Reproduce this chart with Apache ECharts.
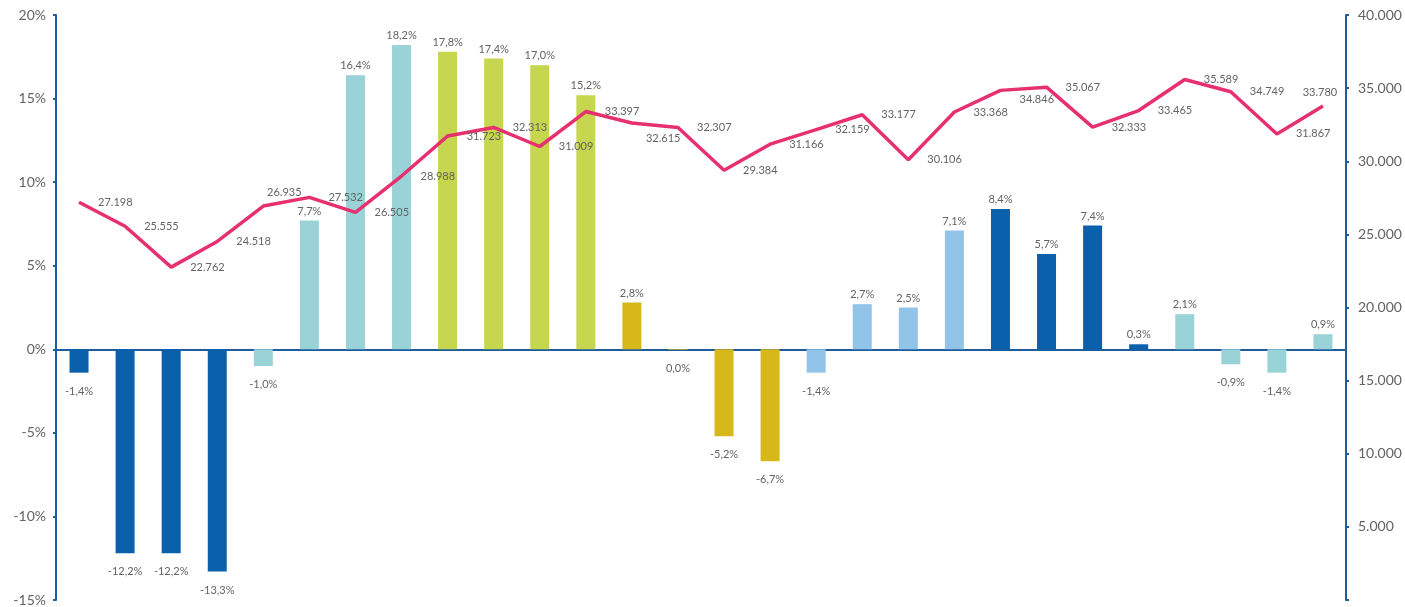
<!DOCTYPE html>
<html>
<head>
<meta charset="utf-8">
<script src="https://cdn.jsdelivr.net/npm/echarts@6/dist/echarts.min.js"></script>
<style>
  html, body { margin: 0; padding: 0; background: #ffffff; }
  #chart { width: 1405px; height: 607px; }
</style>
</head>
<body>
<div id="chart"></div>
<script>
// Quarterly periods, seven years of four quarters each
const categories = [
  '1T-1', '2T-1', '3T-1', '4T-1',
  '1T-2', '2T-2', '3T-2', '4T-2',
  '1T-3', '2T-3', '3T-3', '4T-3',
  '1T-4', '2T-4', '3T-4', '4T-4',
  '1T-5', '2T-5', '3T-5', '4T-5',
  '1T-6', '2T-6', '3T-6', '4T-6',
  '1T-7', '2T-7', '3T-7', '4T-7'
];

// Year-on-year change, % (left axis)
const variation = [
  -1.4, -12.2, -12.2, -13.3,
  -1.0, 7.7, 16.4, 18.2,
  17.8, 17.4, 17.0, 15.2,
  2.8, -0.04, -5.2, -6.7,
  -1.4, 2.7, 2.5, 7.1,
  8.4, 5.7, 7.4, 0.3,
  2.1, -0.9, -1.4, 0.9
];

// Absolute level (right axis)
const level = [
  27198, 25555, 22762, 24518,
  26935, 27532, 26505, 28988,
  31723, 32313, 31009, 33397,
  32615, 32307, 29384, 31166,
  32159, 33177, 30106, 33368,
  34846, 35067, 32333, 33465,
  35589, 34749, 31867, 33780
];

// Left axis ticks
const pctMin = -15, pctMax = 20, pctStep = 5;
// Right axis ticks
const lvlMin = 0, lvlMax = 40000, lvlStep = 5000;

// One colour per year
const yearColors = ['#0a60ab', '#9ad3d7', '#c6d64e', '#d6b81b', '#92c4e9', '#0a60ab', '#9ad3d7'];

// Line labels sit to the right of each point, except a few moved to avoid overlaps
const lineLabelOverrides = {
  4: { position: 'top', distance: 8, offset: [21, 0] },
  12: { position: 'right', distance: 14, offset: [0, 15] },
  20: { position: 'right', offset: [0, 9] },
  27: { position: 'top', distance: 8, offset: [-3, 0] }
};

const textColor = '#636363';
const axisBlue = '#1f5c9e';
const fontFamily = 'Lato, "Open Sans", sans-serif';

function fmtPct(v) {
  let s = v.toFixed(1);
  if (s === '-0.0') s = '0.0';
  return s.replace('.', ',') + '%';
}
function fmtThousands(v) {
  return String(Math.round(v)).replace(/\B(?=(\d{3})+(?!\d))/g, '.');
}

const barData = variation.map((v, i) => ({
  value: v,
  itemStyle: { color: yearColors[Math.floor(i / 4)] },
  label: v < 0 ? { position: 'bottom', distance: 13 } : { position: 'top', distance: 4 }
}));

const lineData = level.map((v, i) => {
  const item = { value: v };
  if (lineLabelOverrides[i]) item.label = lineLabelOverrides[i];
  return item;
});

const chart = echarts.init(document.getElementById('chart'), null, { renderer: 'canvas' });

chart.setOption({
  animation: false,
  backgroundColor: '#ffffff',
  textStyle: { fontFamily: fontFamily },
  grid: { left: 56, right: 59, top: 15, bottom: 7, containLabel: false },
  xAxis: {
    type: 'category',
    data: categories,
    boundaryGap: true,
    axisLine: { show: true, onZero: true, lineStyle: { color: axisBlue, width: 2 } },
    axisTick: { show: false },
    axisLabel: { show: false },
    splitLine: { show: false }
  },
  yAxis: [
    {
      type: 'value',
      position: 'left',
      min: pctMin,
      max: pctMax,
      interval: pctStep,
      axisLine: { show: true, lineStyle: { color: axisBlue, width: 2 } },
      axisTick: { show: true, inside: false, length: 3, lineStyle: { color: axisBlue, width: 2 } },
      axisLabel: {
        color: textColor,
        fontSize: 14,
        fontFamily: fontFamily,
        margin: 10,
        formatter: v => v + '%'
      },
      splitLine: { show: false }
    },
    {
      type: 'value',
      position: 'right',
      min: lvlMin,
      max: lvlMax,
      interval: lvlStep,
      axisLine: { show: true, lineStyle: { color: axisBlue, width: 2 } },
      axisTick: { show: true, inside: false, length: 3, lineStyle: { color: axisBlue, width: 2 } },
      axisLabel: {
        color: textColor,
        fontSize: 14,
        fontFamily: fontFamily,
        margin: 12,
        formatter: v => (v === 0 ? '' : fmtThousands(v))
      },
      splitLine: { show: false }
    }
  ],
  series: [
    {
      name: 'Variación',
      type: 'bar',
      yAxisIndex: 0,
      barWidth: 19,
      data: barData,
      z: 2,
      label: {
        show: true,
        color: textColor,
        fontSize: 11,
        fontFamily: fontFamily,
        formatter: p => fmtPct(p.value)
      }
    },
    {
      name: 'Nivel',
      type: 'line',
      yAxisIndex: 1,
      data: lineData,
      z: 3,
      symbol: 'circle',
      symbolSize: 0.1,
      showSymbol: true,
      itemStyle: { color: '#e6306f' },
      lineStyle: { color: '#e6306f', width: 3.5 },
      label: {
        show: true,
        position: 'right',
        distance: 19,
        color: textColor,
        fontSize: 11,
        fontFamily: fontFamily,
        formatter: p => fmtThousands(p.value)
      }
    }
  ]
});
</script>
</body>
</html>
